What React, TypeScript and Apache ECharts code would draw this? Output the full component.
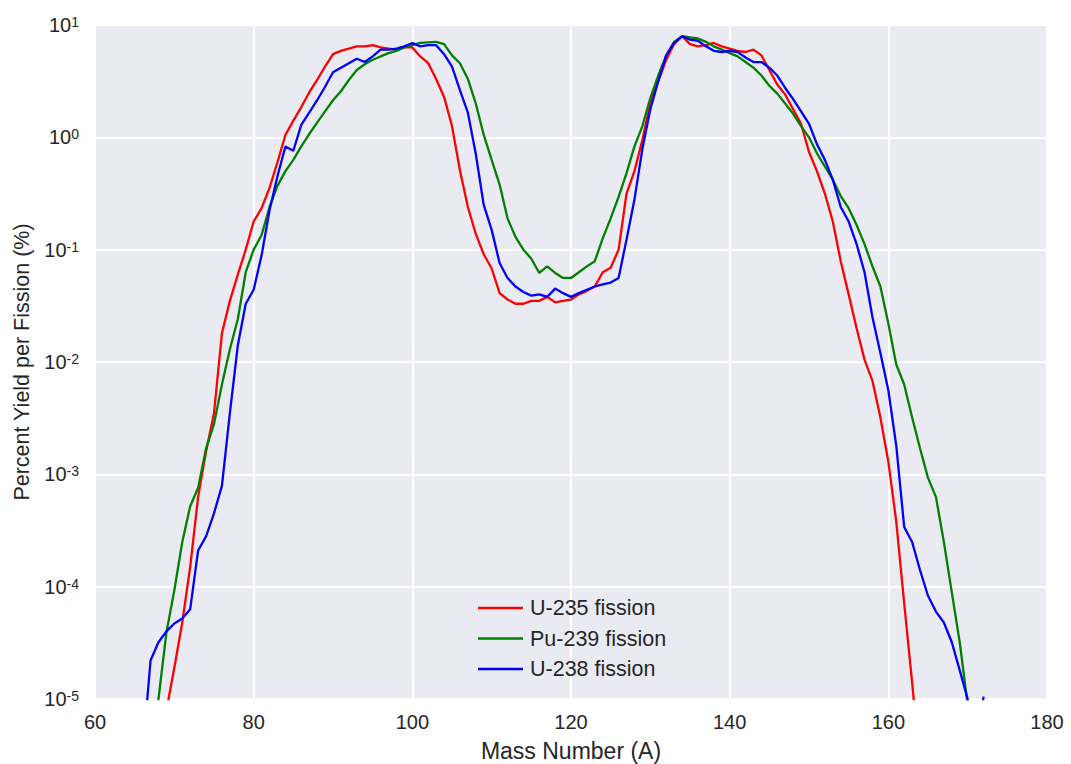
import React, { useEffect, useRef } from "react";
import * as echarts from "echarts";

const massNumbers = [
  66, 67, 68, 69, 70, 71, 72, 73, 74, 75, 76, 77, 78, 79, 80, 81, 82, 83, 84, 85,
  86, 87, 88, 89, 90, 91, 92, 93, 94, 95, 96, 97, 98, 99, 100, 101, 102, 103, 104, 105,
  106, 107, 108, 109, 110, 111, 112, 113, 114, 115, 116, 117, 118, 119, 120, 121, 122, 123, 124, 125,
  126, 127, 128, 129, 130, 131, 132, 133, 134, 135, 136, 137, 138, 139, 140, 141, 142, 143, 144, 145,
  146, 147, 148, 149, 150, 151, 152, 153, 154, 155, 156, 157, 158, 159, 160, 161, 162, 163, 164, 165,
  166, 167, 168, 169, 170, 171, 172,
];

// U-235 fission yields (%)
const u235Yield = [
  null, null, 2.5e-6, 7.9e-6, 1.9e-5, 4.8e-5, 1.5e-4, 6.3e-4, 1.6e-3, 3.5e-3,
  1.8e-2, 3.5e-2, 6.0e-2, 0.1, 0.178, 0.234, 0.355, 0.6, 1.05, 1.41,
  1.86, 2.51, 3.24, 4.27, 5.5, 5.89, 6.17, 6.46, 6.46, 6.61,
  6.31, 6.17, 6.03, 6.31, 6.31, 5.25, 4.57, 3.31, 2.29, 1.26,
  0.51, 0.24, 0.138, 0.091, 0.068, 0.041, 0.036, 0.033, 0.033, 0.035,
  0.035, 0.038, 0.034, 0.035, 0.036, 0.04, 0.043, 0.047, 0.063, 0.069,
  0.1, 0.316, 0.5, 0.95, 2.0, 3.16, 4.9, 6.76, 7.94, 6.76,
  6.46, 6.61, 6.92, 6.46, 6.17, 5.89, 5.75, 6.03, 5.37, 3.98,
  2.95, 2.4, 1.78, 1.32, 0.74, 0.5, 0.316, 0.178, 0.079, 0.04,
  0.02, 0.0105, 0.0068, 0.0032, 1.3e-3, 3.8e-4, 7.1e-5, 1.4e-5, 2.5e-6, null,
  null, null, null, null, null, null, null,
];

// Pu-239 fission yields (%)
const pu239Yield = [
  null, 3.2e-6, 1.0e-5, 3.9e-5, 9.3e-5, 2.5e-4, 5.2e-4, 7.6e-4, 1.7e-3, 2.8e-3,
  6.3e-3, 1.3e-2, 2.4e-2, 6.3e-2, 0.1, 0.135, 0.24, 0.37, 0.5, 0.63,
  0.83, 1.07, 1.35, 1.7, 2.14, 2.57, 3.24, 3.98, 4.47, 4.9,
  5.25, 5.62, 5.89, 6.31, 6.61, 6.92, 7.0, 7.08, 6.76, 5.37,
  4.57, 3.31, 2.0, 1.05, 0.63, 0.38, 0.19, 0.13, 0.1, 0.083,
  0.062, 0.071, 0.062, 0.056, 0.056, 0.063, 0.071, 0.079, 0.126, 0.19,
  0.295, 0.48, 0.83, 1.26, 2.24, 3.55, 5.37, 7.08, 7.94, 7.76,
  7.59, 7.08, 6.46, 6.03, 5.62, 5.25, 4.68, 4.17, 3.55, 2.88,
  2.45, 2.0, 1.62, 1.26, 1.0, 0.72, 0.55, 0.42, 0.3, 0.234,
  0.166, 0.112, 0.071, 0.047, 0.022, 0.0095, 0.0063, 0.0032, 0.0017, 9.3e-4,
  6.3e-4, 2.5e-4, 8.9e-5, 3.2e-5, 8.9e-6, null, null,
];

// U-238 fission yields (%)
const u238Yield = [
  3.2e-6, 2.2e-5, 3.2e-5, 4.0e-5, 4.7e-5, 5.2e-5, 6.3e-5, 2.1e-4, 2.8e-4, 4.5e-4,
  7.9e-4, 3.5e-3, 1.4e-2, 3.3e-2, 4.4e-2, 8.9e-2, 0.224, 0.45, 0.83, 0.76,
  1.29, 1.66, 2.14, 2.82, 3.8, 4.17, 4.57, 5.01, 4.68, 5.25,
  6.03, 6.03, 6.17, 6.46, 6.92, 6.46, 6.61, 6.61, 5.5, 4.27,
  2.63, 1.66, 0.71, 0.25, 0.15, 0.076, 0.056, 0.047, 0.042, 0.039,
  0.04, 0.038, 0.045, 0.041, 0.038, 0.041, 0.044, 0.047, 0.049, 0.051,
  0.056, 0.123, 0.28, 0.79, 1.78, 3.16, 5.37, 6.92, 7.94, 7.41,
  7.24, 6.46, 5.89, 5.75, 5.89, 5.75, 5.13, 4.68, 4.68, 4.17,
  3.55, 2.75, 2.19, 1.7, 1.32, 0.87, 0.63, 0.42, 0.24, 0.178,
  0.112, 0.063, 0.025, 0.012, 5.6e-3, 1.8e-3, 3.4e-4, 2.5e-4, 1.4e-4, 8.3e-5,
  6.0e-5, 4.8e-5, 3.2e-5, 1.8e-5, 1.0e-5, 2.5e-6, 1.05e-5,
];

const seriesNames = ["U-235 fission", "Pu-239 fission", "U-238 fission"];
const seriesColors = ["#ff0000", "#008000", "#0000ff"];
const xTicks = [60, 80, 100, 120, 140, 160, 180];

const FONT = "'Liberation Sans', Arial, sans-serif";
const TXT = "#262626";

function pairs(ys: (number | null)[]) {
  const out: [number, number][] = [];
  ys.forEach((v, i) => {
    if (v !== null) out.push([massNumbers[i], v]);
  });
  return out;
}

export default function App() {
  const ref = useRef<HTMLDivElement>(null);
  useEffect(() => {
    if (!ref.current) return;
    const chart = echarts.init(ref.current, null, { renderer: "svg" });
    const all = [u235Yield, pu239Yield, u238Yield];
    chart.setOption({
      animation: false,
      backgroundColor: "#ffffff",
      textStyle: { fontFamily: FONT },
      grid: {
        left: 95,
        right: 24,
        top: 25,
        bottom: 65,
        show: true,
        backgroundColor: "#EAEAF2",
        borderWidth: 0,
        containLabel: false,
        outerBoundsMode: "none",
      },
      legend: {
        data: seriesNames,
        orient: "vertical",
        left: 473,
        top: 592,
        icon: "rect",
        itemWidth: 45,
        itemHeight: 2.5,
        itemGap: 8.5,
        textStyle: {
          fontFamily: FONT,
          fontSize: 21.5,
          color: TXT,
          lineHeight: 20,
          padding: [0, 0, 0, 2],
        },
      },
      xAxis: {
        type: "value",
        min: xTicks[0],
        max: xTicks[xTicks.length - 1],
        interval: 20,
        name: "Mass Number (A)",
        nameLocation: "middle",
        nameGap: 40,
        nameTextStyle: { fontFamily: FONT, fontSize: 23, color: TXT },
        axisLine: { show: false },
        axisTick: { show: false },
        axisLabel: { fontFamily: FONT, fontSize: 20, color: TXT, margin: 13 },
        splitLine: { show: true, lineStyle: { color: "#ffffff", width: 2 } },
      },
      yAxis: {
        type: "log",
        logBase: 10,
        min: 1e-5,
        max: 10,
        name: "Percent Yield per Fission (%)",
        nameLocation: "middle",
        nameGap: 62,
        nameTextStyle: { fontFamily: FONT, fontSize: 21.5, color: TXT },
        axisLine: { show: false },
        axisTick: { show: false },
        axisLabel: {
          margin: 16,
          formatter: (v: number) => {
            const e = Math.round(Math.log10(v));
            return "{b|10}{s|" + e + "}";
          },
          rich: {
            b: {
              fontFamily: FONT,
              fontSize: 20,
              lineHeight: 20,
              color: TXT,
              padding: [6, 0, 6, 0],
            },
            s: {
              fontFamily: FONT,
              fontSize: 14,
              lineHeight: 14,
              color: TXT,
              verticalAlign: "top",
            },
          },
        },
        splitLine: { show: true, lineStyle: { color: "#ffffff", width: 2 } },
      },
      series: all.map((ys, i) => ({
        name: seriesNames[i],
        type: "line",
        data: pairs(ys),
        symbol: "none",
        showSymbol: false,
        clip: true,
        color: seriesColors[i],
        lineStyle: { color: seriesColors[i], width: 2.3 },
      })),
    });
    return () => chart.dispose();
  }, []);
  return (
    <div
      ref={ref}
      style={{ position: "absolute", left: 0, top: 0, width: 1071, height: 764 }}
    />
  );
}
